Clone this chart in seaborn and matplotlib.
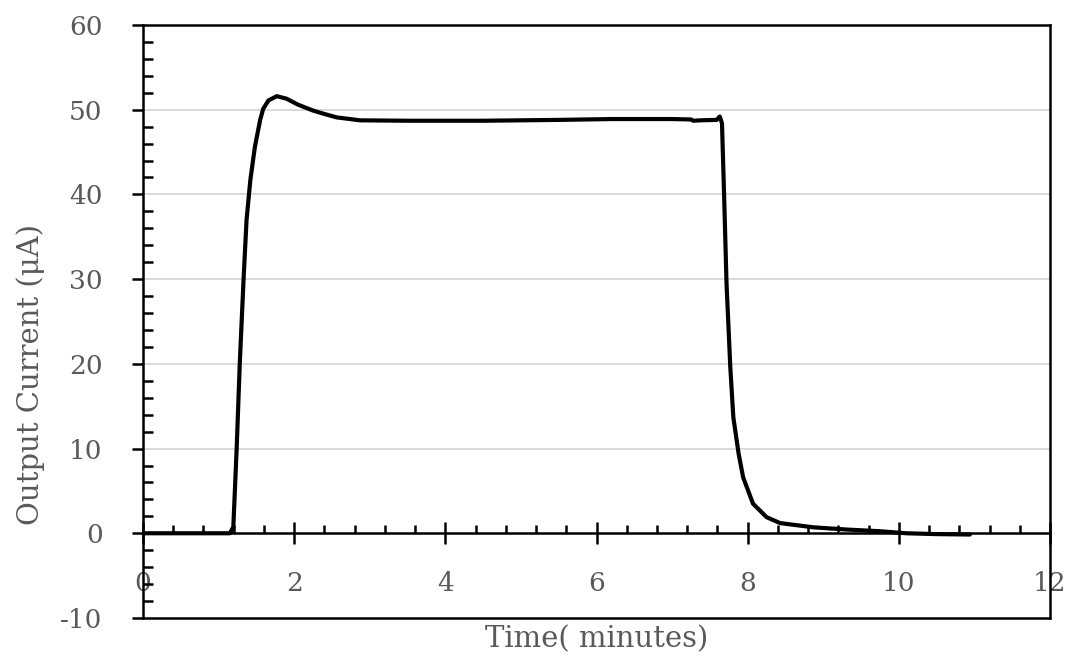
import numpy as np
import pandas as pd
import matplotlib
matplotlib.use("Agg")
import matplotlib.pyplot as plt
import seaborn as sns
from matplotlib.ticker import MultipleLocator

# values
time_min = [0, 0.5, 1.0, 1.15, 1.195, 1.24, 1.28, 1.33, 1.37, 1.42, 1.48, 1.55,
            1.59, 1.66, 1.77, 1.90, 2.05, 2.25, 2.4, 2.56, 2.87, 3.5, 4.5, 5.5,
            6.2, 7.0, 7.25, 7.28, 7.37, 7.59, 7.63, 7.66, 7.69, 7.72, 7.77,
            7.81, 7.88, 7.94, 8.07, 8.25, 8.43, 8.87, 9.31, 9.75, 10.1, 10.5,
            10.94]
current_ua = [0, 0, 0, 0, 0.75, 10.2, 20, 29.9, 37, 41.7, 45.6, 48.8,
              50.1, 51.1, 51.6, 51.3, 50.6, 49.9, 49.5, 49.1, 48.75, 48.7, 48.7, 48.8,
              48.9, 48.9, 48.85, 48.7, 48.75, 48.8, 49.2, 48.4, 39.3, 29.5, 19.6,
              13.7, 9.4, 6.6, 3.5, 1.9, 1.2, 0.7, 0.44, 0.24, 0.0, -0.1,
              -0.15]

x_ticks = [0, 2, 4, 6, 8, 10, 12]
y_ticks = [-10, 0, 10, 20, 30, 40, 50, 60]

df = pd.DataFrame({'time': time_min, 'current': current_ua})

sns.set_theme(style='white')
plt.rcParams['font.family'] = ['DejaVu Serif']
plt.rcParams['axes.unicode_minus'] = False

fig = plt.figure(figsize=(10.72, 6.62), dpi=100)
ax = fig.add_axes([0.1334, 0.0665, 0.9795 - 0.1334, 0.9622 - 0.0665])

gray = '#595959'

# horizontal gridlines
for yv in y_ticks[2:]:
    ax.axhline(yv, color='#d9d9d9', lw=1.4, zorder=0)

sns.lineplot(df, x='time', y='current', color='black', lw=3.0,
             ax=ax, legend=False, zorder=3)

ax.set_xlim(0, 12)
ax.set_ylim(-10, 60)
ax.set_xticks(x_ticks)
ax.set_yticks(y_ticks)
ax.xaxis.set_minor_locator(MultipleLocator(0.4))
ax.yaxis.set_minor_locator(MultipleLocator(2))

# x axis crosses at zero, frame kept at -10
ax.spines['bottom'].set_position(('data', 0))
ax.axhline(-10, color='black', lw=1.8, clip_on=False, zorder=4)
for s in ['left', 'right', 'top', 'bottom']:
    ax.spines[s].set_color('black')
    ax.spines[s].set_linewidth(1.8)

ax.tick_params(axis='x', which='major', direction='inout', length=16, width=1.8,
               colors='black', labelcolor=gray, labelsize=19, pad=19, bottom=True)
ax.tick_params(axis='x', which='minor', direction='in', length=6, width=1.8,
               colors='black', bottom=True)
ax.tick_params(axis='y', which='major', direction='out', length=8, width=1.8,
               colors='black', labelcolor=gray, labelsize=19, pad=21, left=True)
ax.tick_params(axis='y', which='minor', direction='in', length=7, width=1.8,
               colors='black', left=True)

ax.set_xlabel('Time( minutes)', fontsize=21, color=gray)
ax.set_ylabel('Output Current (μA)', fontsize=21, color=gray)
ax.xaxis.set_label_coords(0.5, -0.012)
ax.yaxis.set_label_coords(-0.108, 0.41)

fig.savefig('out.png', dpi=100)
